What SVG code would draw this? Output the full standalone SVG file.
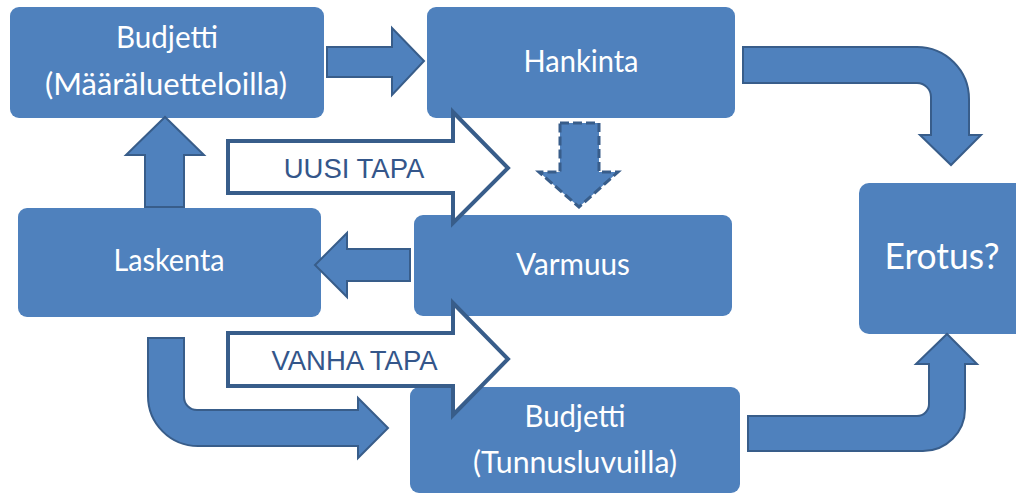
<svg xmlns="http://www.w3.org/2000/svg" width="1016" height="495" viewBox="0 0 1016 495">
<style>
.box{fill:#4f81bd;}
.lbl{fill:#ffffff;font-family:Lato,"Open Sans","Liberation Sans",sans-serif;font-size:31px;text-anchor:middle;}
.arr{fill:#4f81bd;stroke:#385d8a;stroke-width:2;stroke-linejoin:miter;}
.dash{fill:#4f81bd;stroke:#385d8a;stroke-width:3;stroke-dasharray:9 4;}
.out{fill:#ffffff;stroke:#385d8a;stroke-width:4;stroke-linejoin:miter;}
.way{fill:#34568a;font-family:"Liberation Sans",Arial,sans-serif;font-size:27.5px;text-anchor:middle;}
</style>
<rect width="1016" height="495" fill="#ffffff"/>
<g id="budjetti-maara">
<rect class="box" x="10" y="7" width="314" height="111" rx="9"/>
<text class="lbl" x="167" y="48" textLength="102" lengthAdjust="spacingAndGlyphs">Budjetti</text>
<text class="lbl" x="166" y="95" textLength="242" lengthAdjust="spacingAndGlyphs">(Määräluetteloilla)</text>
</g>
<g id="hankinta">
<rect class="box" x="427" y="7" width="308" height="111" rx="9"/>
<text class="lbl" x="581" y="72" textLength="115" lengthAdjust="spacingAndGlyphs">Hankinta</text>
</g>
<g id="laskenta">
<rect class="box" x="18" y="208" width="303" height="109" rx="9"/>
<text class="lbl" x="169" y="271" textLength="111" lengthAdjust="spacingAndGlyphs">Laskenta</text>
</g>
<g id="varmuus">
<rect class="box" x="414" y="215" width="318" height="101" rx="9"/>
<text class="lbl" x="573" y="275" textLength="114" lengthAdjust="spacingAndGlyphs">Varmuus</text>
</g>
<g id="budjetti-tunnus">
<rect class="box" x="410" y="387" width="330" height="106" rx="9"/>
<text class="lbl" x="575" y="427" textLength="101" lengthAdjust="spacingAndGlyphs">Budjetti</text>
<text class="lbl" x="575" y="473" textLength="204" lengthAdjust="spacingAndGlyphs">(Tunnusluvuilla)</text>
</g>
<g id="erotus">
<rect class="box" x="859" y="183" width="170" height="151" rx="10"/>
<text class="lbl" x="942" y="269" style="font-size:36px" textLength="115" lengthAdjust="spacingAndGlyphs">Erotus?</text>
</g>
<g id="connectors">
<path class="arr" d="M327,47 L392,47 L392,28 L424,61 L392,95 L392,77 L327,77 Z"/>
<path class="arr" d="M145,207 L145,155 L126,155 L165,117 L204,155 L184,155 L184,207 Z"/>
<path class="arr" d="M410,249 L347,249 L347,233 L315,265 L347,297 L347,281 L410,281 Z"/>
<path class="dash" d="M560,123 L599,123 L599,172 L618,172 L579,207 L539,172 L560,172 Z"/>
<path class="arr" d="M743,47 L917,47 A52,52 0 0 1 969,99 L969,135 L981,135 L951,165 L920,135 L931,135 L931,97 A14,14 0 0 0 917,83 L743,83 Z"/>
<path class="arr" d="M748,416 L917,416 A12,12 0 0 0 929,404 L929,364 L916,364 L947,334 L977,364 L965,364 L965,409 A42,42 0 0 1 923,451 L748,451 Z"/>
<path class="arr" d="M148,338 L184,338 L184,397 A13,13 0 0 0 197,410 L358,410 L358,398 L388,428 L358,458 L358,446 L198,446 A50,50 0 0 1 148,396 Z"/>
<g id="uusi-tapa">
<path class="out" d="M228,141 L453,141 L453,112 L508,168 L453,223 L453,193 L228,193 Z"/>
<text class="way" x="354" y="178">UUSI TAPA</text>
</g>
<g id="vanha-tapa">
<path class="out" d="M228,333 L453,333 L453,303 L508,359 L453,415 L453,386 L228,386 Z"/>
<text class="way" x="354.5" y="370">VANHA TAPA</text>
</g>
</g>
</svg>
